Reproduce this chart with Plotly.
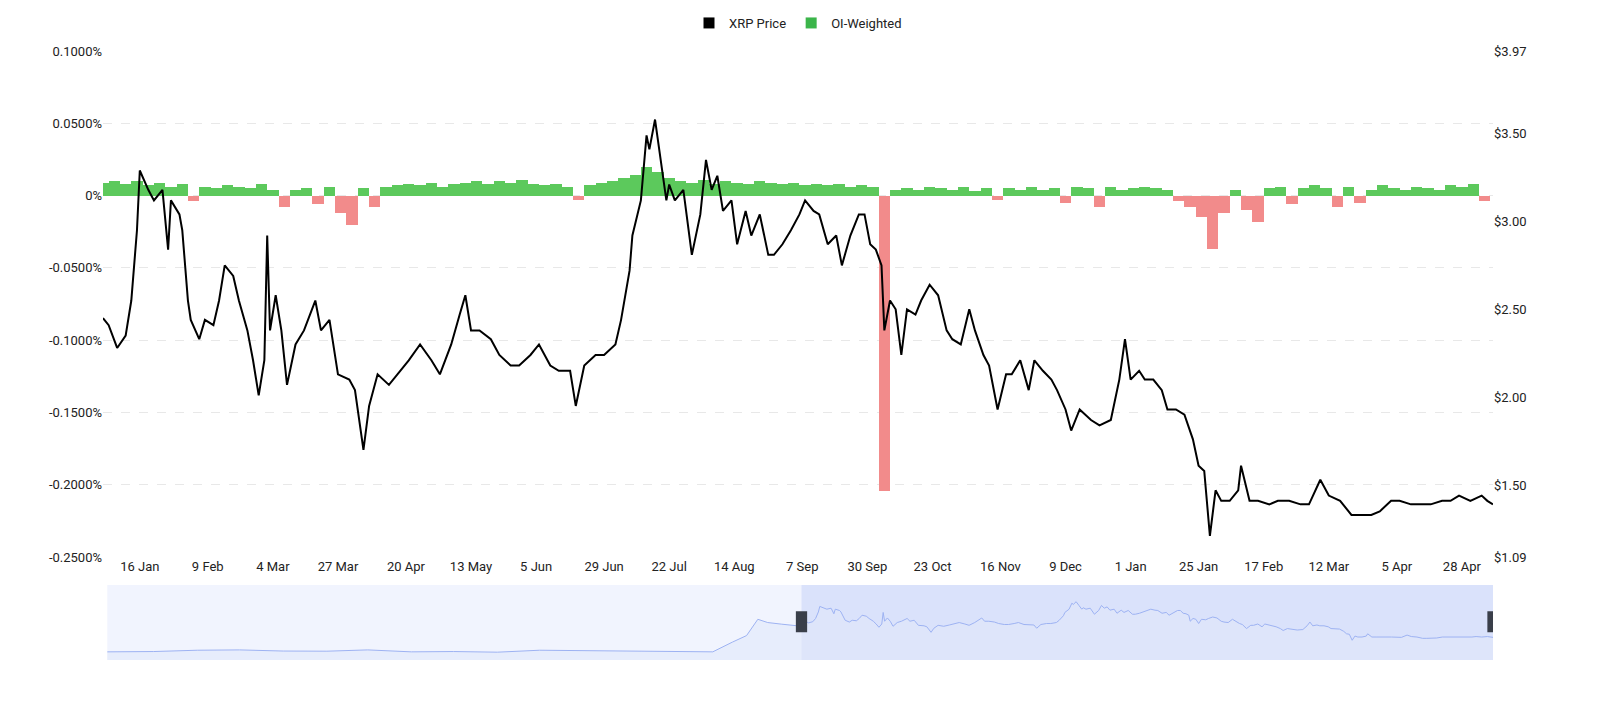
import pandas as pd
import plotly.graph_objects as go

# --- datos ---
inicio = pd.Timestamp("2025-01-03")

dias_precio = [0, 2, 5, 8, 10, 12, 13, 16, 18, 21, 23, 24, 27, 28, 30, 31, 34, 36, 39, 41, 43, 46, 48, 51, 53, 55, 57,
               58, 59, 61, 63, 65, 68, 71, 75, 77, 80, 83, 87, 89, 92, 94, 97, 101, 105, 108, 112, 116, 119, 123, 126,
               128, 130, 133, 137, 140, 144, 147, 151, 154, 158, 161, 165, 167, 170, 174, 177, 181, 183, 186, 187, 190,
               192, 193, 195, 197, 199, 200, 202, 205, 207, 208, 211, 213, 215, 217, 219, 222, 224, 227, 229, 232, 235,
               237, 240, 243, 246, 248, 251, 253, 256, 259, 261, 264, 267, 269, 271, 273, 275, 276, 278, 280, 282, 284,
               287, 289, 292, 295, 298, 300, 303, 306, 308, 311, 313, 316, 319, 321, 324, 327, 329, 332, 335, 337, 340,
               342, 345, 349, 352, 356, 359, 361, 363, 366, 368, 371, 374, 376, 379, 382, 385, 387, 389, 391, 393, 395,
               398, 401, 402, 405, 408, 412, 415, 419, 423, 426, 430, 433, 437, 441, 444, 448, 451, 455, 458, 462, 465,
               469, 473, 476, 479, 483, 487, 489, 491]
precio = [2.45, 2.41, 2.28, 2.35, 2.55, 2.95, 3.29, 3.18, 3.12, 3.18, 2.84, 3.12, 3.04, 2.95, 2.55, 2.44, 2.33, 2.44,
          2.41, 2.55, 2.75, 2.69, 2.55, 2.38, 2.21, 2.01, 2.21, 2.92, 2.38, 2.58, 2.38, 2.07, 2.30, 2.38, 2.55, 2.38,
          2.44, 2.13, 2.10, 2.04, 1.70, 1.95, 2.13, 2.07, 2.15, 2.21, 2.30, 2.21, 2.13, 2.30, 2.47, 2.58, 2.38, 2.38,
          2.33, 2.24, 2.18, 2.18, 2.24, 2.30, 2.18, 2.15, 2.15, 1.95, 2.18, 2.24, 2.24, 2.30, 2.44, 2.72, 2.92, 3.12,
          3.49, 3.41, 3.58, 3.35, 3.12, 3.21, 3.12, 3.18, 2.95, 2.81, 3.04, 3.35, 3.18, 3.26, 3.06, 3.12, 2.87, 3.06,
          2.92, 3.04, 2.81, 2.81, 2.87, 2.95, 3.04, 3.12, 3.06, 3.04, 2.87, 2.92, 2.75, 2.92, 3.04, 3.04, 2.87, 2.84,
          2.75, 2.38, 2.55, 2.50, 2.24, 2.50, 2.47, 2.55, 2.64, 2.58, 2.38, 2.33, 2.30, 2.50, 2.38, 2.24, 2.18, 1.93,
          2.13, 2.13, 2.21, 2.04, 2.21, 2.15, 2.10, 2.04, 1.93, 1.81, 1.93, 1.87, 1.84, 1.87, 2.10, 2.33, 2.10, 2.15,
          2.10, 2.10, 2.04, 1.93, 1.93, 1.90, 1.76, 1.61, 1.58, 1.21, 1.47, 1.41, 1.41, 1.47, 1.61, 1.41, 1.41, 1.39,
          1.41, 1.41, 1.39, 1.39, 1.53, 1.44, 1.41, 1.33, 1.33, 1.33, 1.35, 1.41, 1.41, 1.39, 1.39, 1.39, 1.41, 1.41,
          1.44, 1.41, 1.44, 1.41, 1.39]

# funding OI-ponderado (%), cada 4 días desde el inicio
paso_funding = 4
funding = [0.009, 0.010, 0.008, 0.010, 0.007, 0.009, 0.006, 0.008, -0.004, 0.006, 0.005, 0.007,
           0.006, 0.005, 0.008, 0.004, -0.008, 0.004, 0.005, -0.006, 0.006, -0.012, -0.020, 0.005,
           -0.008, 0.006, 0.007, 0.008, 0.007, 0.009, 0.006, 0.008, 0.009, 0.010, 0.008, 0.010,
           0.009, 0.011, 0.008, 0.007, 0.008, 0.006, -0.003, 0.007, 0.009, 0.010, 0.012, 0.014,
           0.020, 0.016, 0.012, 0.010, 0.009, 0.011, 0.008, 0.010, 0.009, 0.008, 0.010, 0.009,
           0.008, 0.009, 0.007, 0.008, 0.007, 0.008, 0.006, 0.007, 0.006, -0.204, 0.004, 0.005,
           0.004, 0.006, 0.005, 0.004, 0.006, 0.003, 0.005, -0.003, 0.005, 0.004, 0.006, 0.004,
           0.005, -0.005, 0.006, 0.005, -0.008, 0.006, 0.004, 0.005, 0.006, 0.005, 0.004, -0.004,
           -0.008, -0.015, -0.037, -0.012, 0.004, -0.010, -0.018, 0.005, 0.006, -0.006, 0.005, 0.007,
           0.005, -0.008, 0.006, -0.005, 0.004, 0.007, 0.005, 0.004, 0.006, 0.005, 0.004, 0.007,
           0.006, 0.008, -0.004]

# histórico previo para el deslizador
fechas_hist = ["2023-08-29", "2023-10-01", "2023-11-01", "2023-12-01", "2024-01-01", "2024-02-01", "2024-03-01",
               "2024-04-01", "2024-05-01", "2024-06-01", "2024-07-01", "2024-08-01", "2024-09-01", "2024-10-01",
               "2024-11-01", "2024-11-15", "2024-11-25", "2024-12-03", "2024-12-10", "2024-12-20", "2024-12-31"]
precio_hist = [0.50, 0.52, 0.60, 0.62, 0.55, 0.54, 0.62, 0.50, 0.52, 0.48, 0.60, 0.57, 0.58, 0.53,
               0.50, 1.10, 1.50, 2.50, 2.30, 2.20, 2.10]

ticks_izq = [0.1, 0.05, 0, -0.05, -0.1, -0.15, -0.2, -0.25]
ticks_der = [1.09, 1.5, 2.0, 2.5, 3.0, 3.5, 3.97]
ticks_fecha = ["2025-01-16", "2025-02-09", "2025-03-04", "2025-03-27", "2025-04-20", "2025-05-13", "2025-06-05",
               "2025-06-29", "2025-07-22", "2025-08-14", "2025-09-07", "2025-09-30", "2025-10-23", "2025-11-16",
               "2025-12-09", "2026-01-01", "2026-01-25", "2026-02-17", "2026-03-12", "2026-04-05", "2026-04-28"]

fechas_precio = [inicio + pd.Timedelta(days=d) for d in dias_precio]
fechas_funding = [inicio + pd.Timedelta(days=i * paso_funding) for i in range(len(funding))]
fin = fechas_precio[-1]

VERDE = "#5cc95c"
ROJO = "#f28b8b"

fig = go.Figure()

fig.add_trace(go.Bar(
    x=fechas_funding, y=funding, yaxis="y",
    width=paso_funding * 86400000,
    marker=dict(color=[VERDE if v >= 0 else ROJO for v in funding], line=dict(width=0)),
    showlegend=False, name="OI-Weighted"
))
fig.add_trace(go.Scatter(
    x=fechas_precio, y=precio, yaxis="y2", mode="lines",
    line=dict(color="black", width=2), showlegend=False, name="XRP Price"
))

# leyenda con cuadrados
fig.add_trace(go.Scatter(x=[None], y=[None], mode="markers", name="XRP Price",
                         marker=dict(symbol="square", size=11, color="black")))
fig.add_trace(go.Scatter(x=[None], y=[None], mode="markers", name="OI-Weighted",
                         marker=dict(symbol="square", size=11, color="#3bb54a")))

# deslizador (vista general)
fechas_todo = [pd.Timestamp(f) for f in fechas_hist] + fechas_precio
precio_todo = precio_hist + precio
fig.add_trace(go.Scatter(
    x=fechas_todo, y=precio_todo, xaxis="x2", yaxis="y3", mode="lines",
    line=dict(color="#9db2f2", width=1), fill="tozeroy", fillcolor="rgba(225,231,250,0.6)",
    showlegend=False, hoverinfo="skip"
))

fig.update_layout(
    width=1584, height=697,
    paper_bgcolor="white", plot_bgcolor="white",
    margin=dict(l=95, r=99, t=43, b=45),
    font=dict(family="Roboto", size=13, color="#222"),
    bargap=0,
    legend=dict(orientation="h", x=0.5, xanchor="center", yref="container", y=1.0, yanchor="top",
                font=dict(size=13), itemwidth=30),
    xaxis=dict(domain=[0, 1], range=[inicio, fin], type="date",
               tickvals=ticks_fecha, tickformat="%-d %b", showgrid=False, showline=False,
               ticks="", anchor="y", automargin=False),
    yaxis=dict(domain=[0.169, 1], range=[-0.25, 0.1], tickvals=ticks_izq,
               ticktext=["0%" if v == 0 else f"{v:.4f}%" for v in ticks_izq],
               showgrid=True, gridcolor="#e8e8e8", griddash="dash", zeroline=False, automargin=False),
    yaxis2=dict(overlaying="y", side="right", range=[1.09, 3.97], tickvals=ticks_der,
                ticktext=[f"${v:.2f}" for v in ticks_der], showgrid=False, zeroline=False,
                automargin=False),
    xaxis2=dict(domain=[0.003, 1.0], range=[pd.Timestamp(fechas_hist[0]), fin], type="date",
                showticklabels=False, showgrid=False, anchor="y3", automargin=False),
    yaxis3=dict(domain=[0, 0.123], range=[0, 4.6], showticklabels=False, showgrid=False,
                zeroline=False, automargin=False),
    shapes=[
        dict(type="rect", xref="x2", yref="y3", x0=fechas_hist[0], x1=fin, y0=0, y1=4.6,
             fillcolor="rgba(225,231,252,0.45)", line=dict(width=0), layer="below"),
        dict(type="rect", xref="x2", yref="y3", x0=inicio, x1=fin, y0=0, y1=4.6,
             fillcolor="rgba(190,204,248,0.45)", line=dict(width=0), layer="below"),
        dict(type="rect", xref="x2", yref="y3", x0=inicio - pd.Timedelta(days=4), x1=inicio + pd.Timedelta(days=4),
             y0=1.7, y1=3.0, fillcolor="#3a3f4a", line=dict(width=0)),
        dict(type="rect", xref="x2", yref="y3", x0=fin - pd.Timedelta(days=4), x1=fin + pd.Timedelta(days=4),
             y0=1.7, y1=3.0, fillcolor="#3a3f4a", line=dict(width=0)),
    ],
)

fig.write_html("out.html")
